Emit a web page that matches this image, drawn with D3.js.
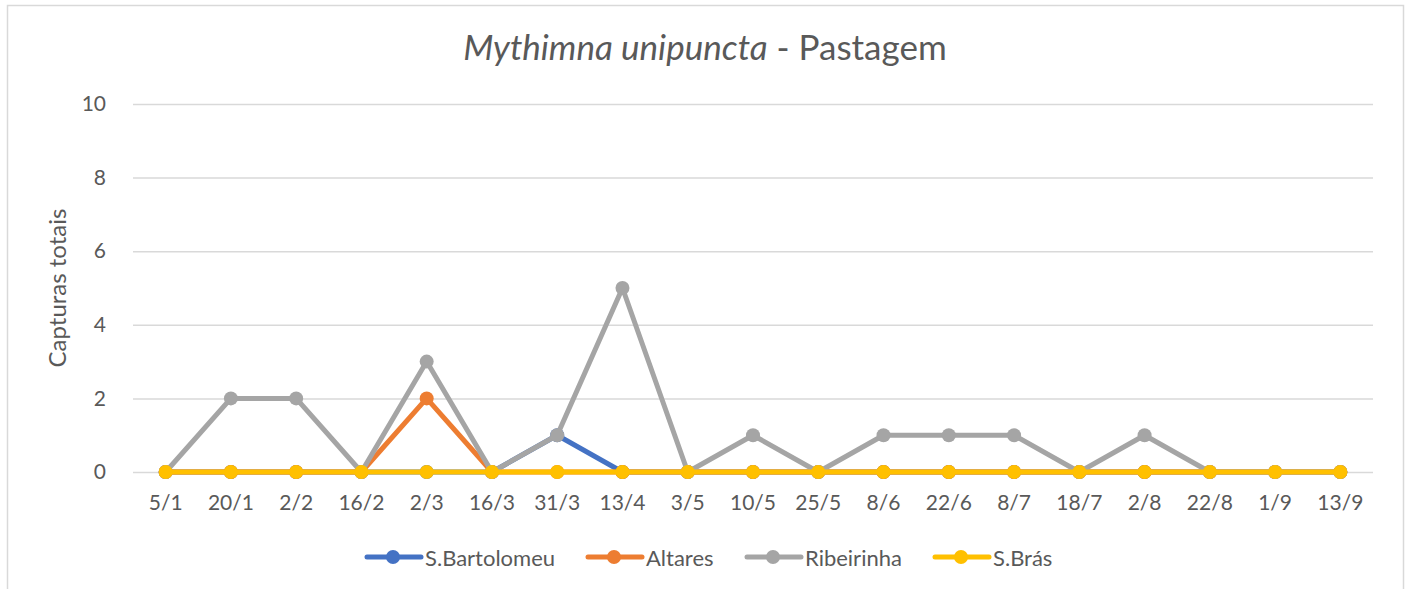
<!DOCTYPE html>
<html>
<head>
<meta charset="utf-8">
<script src="https://cdn.jsdelivr.net/npm/d3@7"></script>
<style>
  body { margin: 0; background: #fff; }
  svg { display: block; font-family: Lato, "Open Sans", sans-serif; }
</style>
</head>
<body>
<svg id="chart"></svg>
<script>
var width = 1407,
    height = 589;

var dates = ["5/1", "20/1", "2/2", "16/2", "2/3", "16/3", "31/3", "13/4", "3/5", "10/5",
             "25/5", "8/6", "22/6", "8/7", "18/7", "2/8", "22/8", "1/9", "13/9"];

var bartolomeu = [0, 0, 0, 0, 0, 0, 1, 0, 0, 0, 0, 0, 0, 0, 0, 0, 0, 0, 0];
var altares    = [0, 0, 0, 0, 2, 0, 0, 0, 0, 0, 0, 0, 0, 0, 0, 0, 0, 0, 0];
var ribeirinha = [0, 2, 2, 0, 3, 0, 1, 5, 0, 1, 0, 1, 1, 1, 0, 1, 0, 0, 0];
var bras       = [0, 0, 0, 0, 0, 0, 0, 0, 0, 0, 0, 0, 0, 0, 0, 0, 0, 0, 0];

var seriesNames = ["S.Bartolomeu", "Altares", "Ribeirinha", "S.Brás"];
var seriesColors = ["#4472c4", "#ed7d31", "#a5a5a5", "#ffc000"];
var yTicks = [0, 2, 4, 6, 8, 10];

var series = [bartolomeu, altares, ribeirinha, bras].map(function(vals, i) {
  return { name: seriesNames[i], color: seriesColors[i], values: vals };
});

var svg = d3.select("#chart").attr("width", width).attr("height", height);

// chart frame
svg.append("rect")
  .attr("x", 7.5).attr("y", 5.5)
  .attr("width", 1396).attr("height", 600)
  .attr("fill", "#fff")
  .attr("stroke", "#d9d9d9")
  .attr("stroke-width", 1.5);

var x = d3.scaleBand().domain(dates).range([133, 1373]);
var y = d3.scaleLinear().domain([0, 10]).range([472, 104]);

// gridlines
svg.append("g")
  .attr("transform", "translate(133,0)")
  .call(d3.axisLeft(y).tickValues(yTicks).tickSize(-1240).tickFormat(""))
  .call(g => g.select(".domain").remove())
  .selectAll("line")
  .attr("stroke", "#d9d9d9")
  .attr("stroke-width", 1.5);

// y labels
svg.append("g")
  .attr("transform", "translate(109,0)")
  .call(d3.axisLeft(y).tickValues(yTicks).tickSize(0))
  .call(g => g.select(".domain").remove())
  .selectAll("text")
  .attr("fill", "#595959")
  .attr("font-size", "21px")
  .attr("font-family", "Lato, sans-serif");

// x labels
svg.append("g")
  .attr("transform", "translate(0,472)")
  .call(d3.axisBottom(x).tickSize(0))
  .call(g => g.select(".domain").remove())
  .selectAll("text")
  .attr("y", 38)
  .attr("dy", 0)
  .attr("fill", "#595959")
  .attr("font-size", "21px")
  .attr("font-family", "Lato, sans-serif");

// axis title
svg.append("text")
  .attr("transform", "translate(66,288) rotate(-90)")
  .attr("text-anchor", "middle")
  .attr("fill", "#595959")
  .attr("font-size", "24px")
  .text("Capturas totais");

// title
var title = svg.append("text")
  .attr("x", 705).attr("y", 60)
  .attr("text-anchor", "middle")
  .attr("fill", "#595959")
  .attr("font-size", "35px");
title.append("tspan").attr("font-style", "italic").text("Mythimna unipuncta");
title.append("tspan").text(" - Pastagem");

var cx = function(d, i) { return x(dates[i]) + x.bandwidth() / 2; };

var line = d3.line()
  .x(function(d, i) { return cx(d, i); })
  .y(function(d) { return y(d); });

var sg = svg.selectAll(".series")
  .data(series)
  .enter().append("g")
  .attr("class", "series");

sg.append("path")
  .attr("d", function(d) { return line(d.values); })
  .attr("fill", "none")
  .attr("stroke", function(d) { return d.color; })
  .attr("stroke-width", 5)
  .attr("stroke-linejoin", "round");

sg.selectAll("circle")
  .data(function(d) { return d.values.map(function(v) { return { v: v, c: d.color }; }); })
  .enter().append("circle")
  .attr("cx", function(d, i) { return cx(d, i); })
  .attr("cy", function(d) { return y(d.v); })
  .attr("r", 7)
  .attr("fill", function(d) { return d.c; });

// legend
var legendX = [367, 588, 747, 935];
var lg = svg.selectAll(".legend")
  .data(series)
  .enter().append("g")
  .attr("class", "legend")
  .attr("transform", function(d, i) { return "translate(" + legendX[i] + ",557)"; });

lg.append("line")
  .attr("x1", 0).attr("x2", 54)
  .attr("stroke", function(d) { return d.color; })
  .attr("stroke-width", 5)
  .attr("stroke-linecap", "round");

lg.append("circle")
  .attr("cx", 26).attr("r", 7)
  .attr("fill", function(d) { return d.color; });

lg.append("text")
  .attr("x", 58).attr("y", 9)
  .attr("fill", "#595959")
  .attr("font-size", "22px")
  .text(function(d) { return d.name; });
</script>
</body>
</html>
